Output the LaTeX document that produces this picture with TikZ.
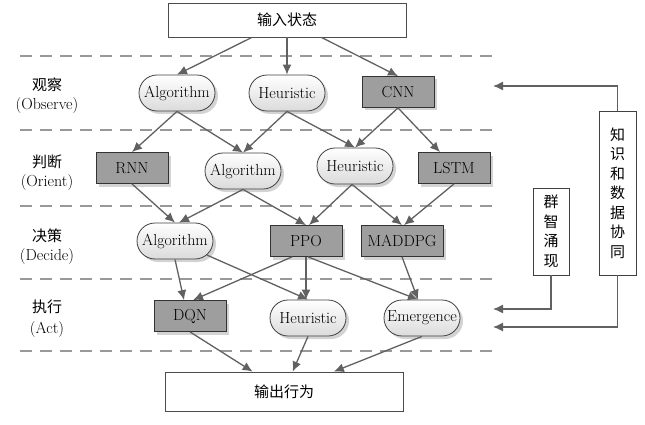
\documentclass[tikz,border=0pt]{standalone}
\usepackage{fontspec}
\newfontfamily\cjk{Noto Sans CJK SC}
\usetikzlibrary{shapes.misc,shadows,arrows.meta}
\begin{document}
\begin{tikzpicture}[x=1pt,y=-1pt,
  font=\fontsize{16}{18}\selectfont,
  soft/.style={rounded rectangle, draw=black!75, line width=0.8pt, top color=white, bottom color=black!14,
    drop shadow={opacity=0.35, shadow xshift=3pt, shadow yshift=-3pt},
    minimum width=78pt, minimum height=36pt, inner xsep=1pt},
  hard/.style={rectangle, draw=black!80, line width=0.8pt, fill=black!38,
    drop shadow={opacity=0.35, shadow xshift=3pt, shadow yshift=-3pt},
    minimum width=72pt, minimum height=31pt},
  iobox/.style={rectangle, draw=black!70, line width=0.8pt, fill=white, minimum width=238pt,
    font=\fontsize{15}{18}\selectfont\cjk},
  sidebox/.style={rectangle, draw=black!75, line width=0.8pt, fill=white, align=center,
    font=\fontsize{15}{19.5}\selectfont\cjk, inner ysep=4pt},
  edge/.style={draw=black!62, line width=1.3pt, -{Latex[length=10pt,width=9pt]}},
  sep/.style={draw=black!40, line width=1.4pt, dash pattern=on 12pt off 8pt},
  lbl/.style={inner sep=0pt},
  clbl/.style={inner sep=0pt, font=\fontsize{15}{18}\selectfont\cjk}
]
\useasboundingbox (0,0) rectangle (645,425);

% separators
\foreach \yy in {56,130,206,279,351} \draw[sep] (20,\yy) -- (494,\yy);

% row labels
\node[clbl] (l1) at (47,85) {观察};
\node[lbl] (l1e) at (47,106) {(Observe)};
\node[clbl] (l2) at (47,162) {判断};
\node[lbl] (l2e) at (47,183) {(Orient)};
\node[clbl] (l3) at (47,236) {决策};
\node[lbl] (l3e) at (47,257) {(Decide)};
\node[clbl] (l4) at (47,307) {执行};
\node[lbl] (l4e) at (47,330) {(Act)};

% input / output
\node[iobox, minimum height=34pt] (in) at (287,20) {输入状态};
\node[iobox, minimum height=39pt] (out) at (284,391.5) {输出行为};

% observe
\node[soft] (oalg) at (177,93) {Algorithm};
\node[soft] (oheu) at (287,93) {Heuristic};
\node[hard] (cnn) at (398,92) {CNN};
% orient
\node[hard] (rnn) at (132,168) {RNN};
\node[soft] (ralg) at (243,171) {Algorithm};
\node[soft] (rheu) at (355,166) {Heuristic};
\node[hard] (lstm) at (454,168) {LSTM};
% decide
\node[soft] (dalg) at (175,241) {Algorithm};
\node[hard] (ppo) at (306,241) {PPO};
\node[hard, minimum width=82pt] (maddpg) at (402,241) {MADDPG};
% act
\node[hard] (dqn) at (190,316) {DQN};
\node[soft] (aheu) at (308,318) {Heuristic};
\node[soft] (emer) at (422,318) {Emergence};

% side boxes
\node[sidebox, minimum width=36pt, minimum height=87pt] (qz) at (551,231.5) {群\\智\\涌\\现};
\node[sidebox, minimum width=37pt, minimum height=164pt] (zs) at (617.5,193) {知\\识\\和\\数\\据\\协\\同};

% edges
\draw[edge] (in) -- (oalg.north);
\draw[edge] (in.south) -- (oheu.north);
\draw[edge] (in) -- (cnn.north);

\draw[edge] (oalg.south) -- (rnn.north);
\draw[edge] (oalg.south) -- (ralg.north);
\draw[edge] (oheu.south) -- (ralg.north);
\draw[edge] (oheu.south) -- (rheu.north);
\draw[edge] (cnn.south) -- (rheu.north);
\draw[edge] (cnn.south) -- ([xshift=-14pt]lstm.north);

\draw[edge] (rnn.south) -- (dalg.north);
\draw[edge] (ralg.south) -- ([xshift=4pt]dalg.north);
\draw[edge] (ralg.south) -- (ppo.north);
\draw[edge] ([xshift=-3pt]rheu.south) -- ([xshift=3pt]ppo.north);
\draw[edge] ([xshift=-3pt]rheu.south) -- (maddpg.north);
\draw[edge] (lstm.south) -- ([xshift=2pt]maddpg.north);

\draw[edge] (dalg.south) -- ([xshift=-6pt]dqn.north);
\draw[edge] (dalg) -- (aheu.north);
\draw[edge] ([xshift=-14pt]ppo.south) -- ([xshift=3pt]dqn.north);
\draw[edge] (ppo.south) -- ([xshift=-2pt]aheu.north);
\draw[edge] ([xshift=2pt]ppo.south) -- ([xshift=-4pt]emer.north);
\draw[edge] (maddpg.south) -- ([xshift=-4pt]emer.north);

\draw[edge] (dqn.south) -- (out);
\draw[edge] (aheu.south) -- (out);
\draw[edge] (emer.south) -- (out);

% feedback
\coordinate (t1) at (493,86);
\coordinate (t2) at (493,309);
\coordinate (t3) at (493,327);
\draw[edge] (zs.north) |- (t1);
\draw[edge] (qz.south) |- (t2);
\draw[edge] (zs.south) |- (t3);
\end{tikzpicture}
\end{document}
